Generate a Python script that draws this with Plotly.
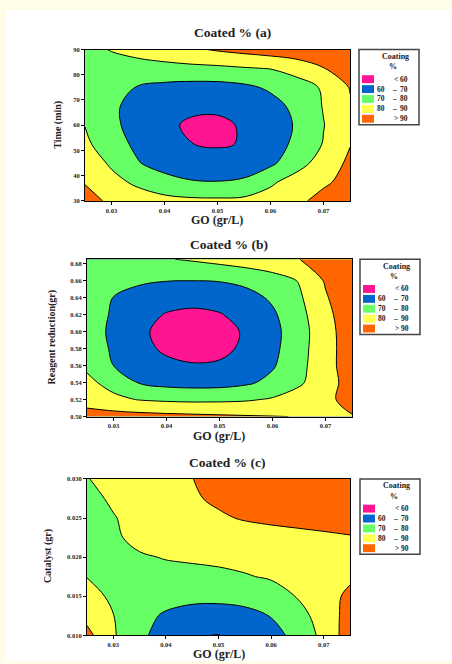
import plotly.graph_objects as go

W, H = 452, 664

# ---------------- data ----------------
go_x = [0.025, 0.030, 0.035, 0.040, 0.045, 0.050, 0.055, 0.060, 0.065, 0.070, 0.075]

time_y = [30, 37.5, 45, 52.5, 60, 67.5, 75, 82.5, 90]
coat_a = [
    [93, 88.5, 85, 83, 82, 81.8, 82.3, 84, 88, 93, 98],
    [89.5, 83, 78, 73.5, 70.8, 70.3, 71.5, 78.5, 84, 88.5, 93],
    [86, 78.5, 70.5, 66, 63.5, 63, 64.5, 68, 76.5, 84, 92],
    [82, 74, 68, 63.5, 60.1, 59.3, 60.4, 65, 72.5, 80.5, 89.6],
    [79.8, 72, 66.5, 62, 58.5, 58, 61, 65, 71, 79.7, 87],
    [77, 71.5, 67, 64, 62, 61.8, 63, 66.5, 72.5, 80.5, 89],
    [76, 73, 69.5, 67.5, 66.5, 66.5, 68, 71.5, 76, 81, 90.5],
    [75, 76, 76.5, 77, 77.5, 78, 79.2, 80.3, 83.5, 89.5, 98],
    [77, 80.5, 83, 85.5, 88.5, 91, 93, 95, 97, 99, 101],
]

reagent_y = [0.50, 0.52, 0.54, 0.56, 0.58, 0.60, 0.62, 0.64, 0.66, 0.685]
coat_b = [
    [95, 94, 93.3, 92.6, 92, 91.4, 90.8, 90.3, 89.8, 89.3, 89.5],
    [85, 82, 79.6, 78.5, 78, 78.2, 79, 81, 84.5, 88, 93],
    [82, 77, 69.3, 67, 66.3, 66.5, 68.5, 72.5, 78.5, 86, 94],
    [78.5, 70, 65, 62, 60.6, 61, 63.5, 69, 77, 86.5, 95],
    [76.5, 68.5, 62.5, 58.5, 57, 58, 61.5, 67.5, 76.5, 86, 95.5],
    [76, 67.5, 61.5, 57.5, 56, 57, 61, 67, 76, 86, 96],
    [76.5, 68.5, 63, 59.5, 58.3, 59.5, 63, 68.5, 77, 87, 97],
    [77.5, 69.8, 66, 63.5, 62.8, 63.5, 66.5, 71.5, 78.5, 89, 98],
    [78, 74, 71.5, 70.3, 70.1, 70.5, 72.5, 75.5, 80.5, 91, 99],
    [77, 77.5, 78.3, 79.5, 81, 83, 85, 87.5, 89.8, 96, 100],
]

catalyst_y = [0.010, 0.0125, 0.015, 0.0175, 0.020, 0.0225, 0.025, 0.0275, 0.030]
coat_c = [
    [93, 81, 72, 66, 60.6, 59.8, 63, 67, 72.5, 83, 95],
    [87, 80.2, 73, 68.8, 66.5, 66, 67.5, 70.3, 76.5, 84, 94],
    [83, 78.5, 75, 73.5, 72.5, 72.5, 73, 75.5, 80.5, 86, 92],
    [79.8, 77.5, 77, 77, 77.3, 78, 79.3, 81, 84, 86.5, 88.5],
    [76.5, 77.5, 79, 80.5, 81.3, 82, 83, 84, 85.3, 86.5, 87.5],
    [77.5, 78.5, 82.6, 84, 85, 86, 87, 87.8, 88.6, 89.3, 89.8],
    [78, 79.5, 83, 86, 88, 89.2, 90.5, 91.2, 91.5, 91.5, 91.3],
    [77.5, 81.3, 85.5, 87.5, 89.3, 91, 92.5, 93.5, 94, 94.3, 94.5],
    [79.5, 84, 86.5, 88.5, 89.9, 92, 94, 95.5, 96.5, 97, 97.3],
]

x_ticks = [0.03, 0.04, 0.05, 0.06, 0.07]
x_ticktext = ["0.03", "0.04", "0.05", "0.06", "0.07"]
a_ticks = [30, 40, 50, 60, 70, 80, 90]
b_ticks = [0.50, 0.52, 0.54, 0.56, 0.58, 0.60, 0.62, 0.64, 0.66, 0.68]
b_ticktext = ["0.50", "0.52", "0.54", "0.56", "0.58", "0.60", "0.62", "0.64", "0.66", "0.68"]
c_ticks = [0.010, 0.015, 0.020, 0.025, 0.030]
c_ticktext = ["0.010", "0.015", "0.020", "0.025", "0.030"]

legend_labels = [("", "<", "60"), ("60", "\u2013", "70"), ("70", "\u2013", "80"),
                 ("80", "\u2013", "90"), ("", ">", "90")]
band_colors = ["#FF1493", "#0066CC", "#66FF66", "#FFFF4D", "#FF6600"]

# ---------------- helpers ----------------
def PX(p):
    return p / W

def PY(p):
    return 1 - p / H

SERIF = "Liberation Serif"

cs = [[0.0, band_colors[0]], [0.125, band_colors[0]],
      [0.125, band_colors[1]], [0.375, band_colors[1]],
      [0.375, band_colors[2]], [0.625, band_colors[2]],
      [0.625, band_colors[3]], [0.875, band_colors[3]],
      [0.875, band_colors[4]], [1.0, band_colors[4]]]

panels = [
    dict(y=time_y, z=coat_a, plot=(85, 350, 46, 199), yrange=[30, 90],
         yt=a_ticks, ytt=[str(v) for v in a_ticks],
         title="Coated % (a)", tpos=(232, 29), ytitle="Time (min)", ytpos=(58, 122),
         xtpos=(217, 218), leg=(359, 46)),
    dict(y=reagent_y, z=coat_b, plot=(87, 352, 258, 417), yrange=[0.50, 0.685],
         yt=b_ticks, ytt=b_ticktext,
         title="Coated % (b)", tpos=(229, 243), ytitle="Reagent reduction(gr)", ytpos=(52, 337),
         xtpos=(219, 437), leg=(360, 258)),
    dict(y=catalyst_y, z=coat_c, plot=(87, 350, 480, 638), yrange=[0.010, 0.030],
         yt=c_ticks, ytt=c_ticktext,
         title="Coated % (c)", tpos=(227, 463), ytitle="Catalyst (gr)", ytpos=(48, 558),
         xtpos=(219, 657), leg=(360, 480)),
]

fig = go.Figure()
layout = dict(
    width=W, height=H, margin=dict(l=0, r=0, t=0, b=0),
    paper_bgcolor="#FFFDE8", plot_bgcolor="white", showlegend=False,
    shapes=[dict(type="rect", xref="paper", yref="paper", x0=PX(6), x1=1, y0=0, y1=PY(6),
                 fillcolor="white", line=dict(width=0), layer="below")],
    annotations=[],
)

tickfont = dict(family=SERIF, size=6.5, color="#222", weight="bold")


def note(text, px, py, size, xanchor="center", angle=0):
    return dict(text=text, x=PX(px), y=PY(py), xref="paper", yref="paper",
                xanchor=xanchor, yanchor="middle", showarrow=False, textangle=angle,
                font=dict(family=SERIF, size=size, color="#222", weight="bold"))


for i, p in enumerate(panels, start=1):
    sfx = "" if i == 1 else str(i)
    fig.add_trace(go.Contour(
        x=go_x, y=p["y"], z=p["z"],
        xaxis="x" + sfx, yaxis="y" + sfx,
        autocontour=False,
        contours=dict(start=60, end=90, size=10, coloring="fill", showlines=True),
        colorscale=cs, showscale=False,
        line=dict(color="black", width=1, smoothing=1.0),
        hoverinfo="skip",
    ))
    x0, x1, y0, y1 = p["plot"]
    layout["xaxis" + sfx] = dict(
        domain=[PX(x0), PX(x1)], anchor="y" + sfx, range=[0.025, 0.075],
        tickvals=x_ticks, ticktext=x_ticktext, ticks="outside", ticklen=3, tickwidth=1,
        tickcolor="black", showline=True, linecolor="black", linewidth=1, mirror=True,
        showgrid=False, zeroline=False, tickfont=tickfont, fixedrange=True)
    layout["yaxis" + sfx] = dict(
        domain=[PY(y1), PY(y0)], anchor="x" + sfx, range=p["yrange"],
        tickvals=p["yt"], ticktext=p["ytt"], ticks="outside", ticklen=3, tickwidth=1,
        tickcolor="black", showline=True, linecolor="black", linewidth=1, mirror=True,
        showgrid=False, zeroline=False, tickfont=tickfont, fixedrange=True)

    ann = layout["annotations"]
    ann.append(note(p["title"], p["tpos"][0], p["tpos"][1], 13.5))
    ann.append(note("GO (gr/L)", p["xtpos"][0], p["xtpos"][1], 12))
    ann.append(note(p["ytitle"], p["ytpos"][0], p["ytpos"][1], 10, angle=-90))

    # legend box
    lx, ly = p["leg"]
    layout["shapes"].append(dict(type="rect", xref="paper", yref="paper",
                                 x0=PX(lx), x1=PX(lx + 60), y0=PY(ly + 76), y1=PY(ly),
                                 fillcolor="white", line=dict(color="#444", width=1.5)))
    ann.append(note("Coating", lx + 36, ly + 7, 8))
    ann.append(note("%", lx + 34, ly + 17.5, 8))
    for k, (left, sep, right) in enumerate(legend_labels):
        cy = ly + 30 + 10 * k
        layout["shapes"].append(dict(type="rect", xref="paper", yref="paper",
                                     x0=PX(lx + 3), x1=PX(lx + 15), y0=PY(cy + 4), y1=PY(cy - 4),
                                     fillcolor=band_colors[k], line=dict(width=0)))
        if left:
            ann.append(note(left, lx + 28, cy, 7.5, xanchor="right"))
        ann.append(note(sep, lx + (35 if left else 36.5), cy, 7.5))
        ann.append(note(right, lx + 51, cy, 7.5, xanchor="right"))

fig.update_layout(**layout)
fig.write_html("out.html",
               config={"displayModeBar": False, "staticPlot": True},
               post_script="document.body.style.margin='0';document.body.style.padding='0';")
